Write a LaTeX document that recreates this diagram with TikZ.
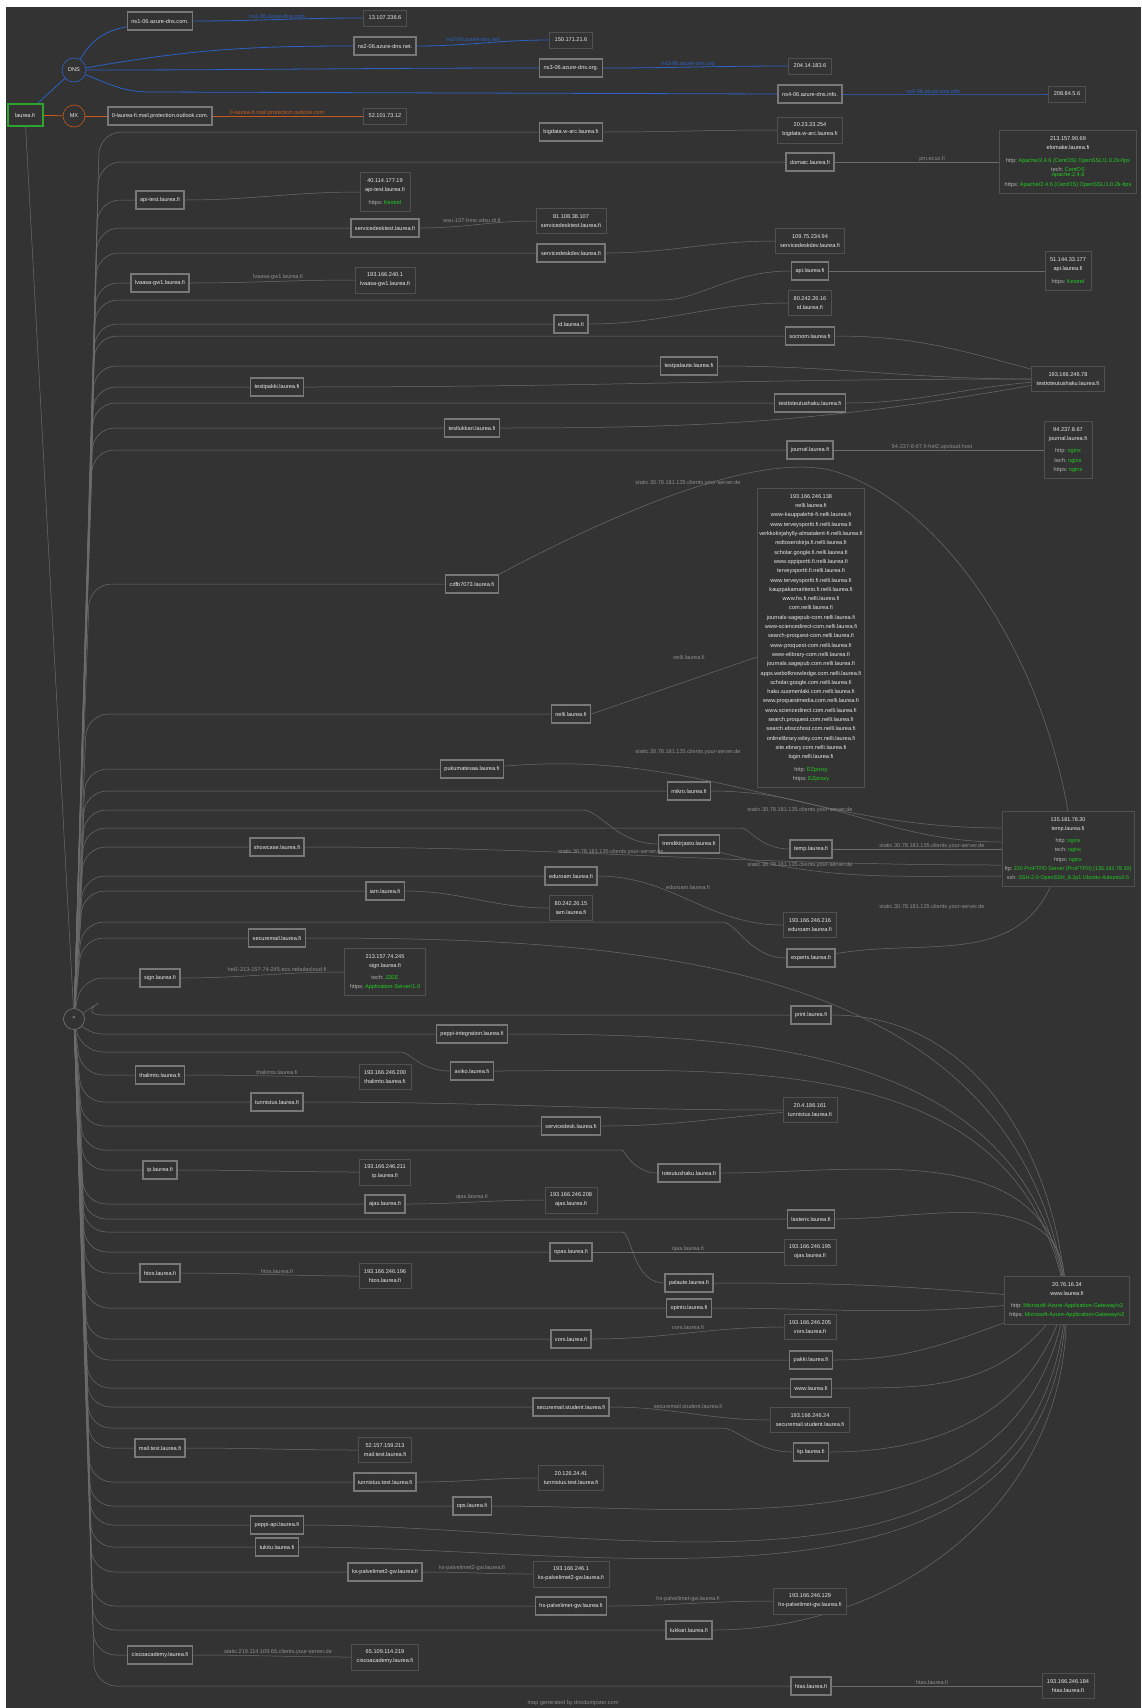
\documentclass[tikz,border=0pt]{standalone}
\usepackage{fontspec}
\setmainfont{Liberation Sans}
\usetikzlibrary{calc}

\definecolor{bg}{HTML}{333333}
\definecolor{boxline}{HTML}{787878}
\definecolor{ipline}{HTML}{505050}
\definecolor{edgegray}{HTML}{6C6C6C}
\definecolor{lbltext}{HTML}{8E8E8E}
\definecolor{nodetext}{HTML}{E8E8E8}
\definecolor{svckey}{HTML}{B4B4B4}
\definecolor{svcgreen}{HTML}{22CC22}
\definecolor{dnsblue}{HTML}{2B62C4}
\definecolor{mxorange}{HTML}{C65A1E}
\definecolor{rootgreen}{HTML}{2EA32E}

\newcommand{\svc}[2]{{\color{svckey}#1:}\ \textcolor{svcgreen}{#2}}

\pgfdeclarelayer{edges}
\pgfsetlayers{edges,main}

\begin{document}
\begin{tikzpicture}[x=1pt, y=-1pt,
    sub/.style={
        rectangle,
        draw=boxline,
        line width=1.5pt,
        fill=bg,
        text=nodetext,
        font=\fontsize{5.6}{7}\selectfont,
        minimum height=18pt,
        inner xsep=4pt
    },
    ipbox/.style={
        rectangle,
        draw=ipline,
        line width=0.7pt,
        fill=bg,
        text=nodetext,
        font=\fontsize{5.6}{9.2}\selectfont,
        align=center,
        inner xsep=5pt,
        inner ysep=6pt
    },
    hub/.style={
        circle,
        draw=boxline,
        line width=0.6pt,
        fill=bg,
        text=nodetext,
        minimum size=21pt,
        inner sep=0pt,
        font=\fontsize{5.6}{7}\selectfont
    },
    lbl/.style={text=lbltext, font=\fontsize{5.6}{7}\selectfont, inner sep=0pt},
    link/.style={draw=edgegray, line width=0.5pt},
    dnslink/.style={draw=dnsblue, line width=0.8pt},
    mxlink/.style={draw=mxorange, line width=0.8pt}
]
\useasboundingbox (0,0) rectangle (1141,1708);

    % root and record hubs
    \node (laurea) [sub, draw=rootgreen, line width=2pt, minimum width=35pt, minimum height=22pt] at (25,115) {laurea.fi};
    \node (dns) [hub, draw=dnsblue, minimum size=24pt] at (74,70) {DNS};
    \node (mx) [hub, draw=mxorange, minimum size=22pt] at (74,116) {MX};
    \node (hat) [hub] at (74,1019) {\textasciicircum};

    % name servers and mail
    \node (ns1) [sub] at (160,21) {ns1-06.azure-dns.com.};
    \node (ns2) [sub] at (385,46) {ns2-06.azure-dns.net.};
    \node (ns3) [sub] at (571,68) {ns3-06.azure-dns.org.};
    \node (ns4) [sub] at (810,94) {ns4-06.azure-dns.info.};
    \node (mxhost) [sub] at (160,116) {0-laurea-fi.mail.protection.outlook.com.};
    \node (i-ns1) [ipbox] at (385,18) {13.107.236.6};
    \node (i-ns2) [ipbox] at (571,40) {150.171.21.6};
    \node (i-ns3) [ipbox] at (810,66) {204.14.183.6};
    \node (i-ns4) [ipbox] at (1067,94) {208.84.5.6};
    \node (i-mx) [ipbox] at (385,116) {52.101.73.12};
    \node (l-ns1) [lbl, text=dnsblue] at (277,16) {ns1-06.azure-dns.com};
    \node (l-ns2) [lbl, text=dnsblue] at (473,39) {ns2-06.azure-dns.net};
    \node (l-ns3) [lbl, text=dnsblue] at (688,64) {ns3-06.azure-dns.org};
    \node (l-ns4) [lbl, text=dnsblue] at (933,91) {ns4-06.azure-dns.info};
    \node (l-mx) [lbl, text=mxorange] at (277,113) {0-laurea-fi.mail.protection.outlook.com};

    % subdomains
    \node (s-bigdata) [sub] at (571,132) {bigdata.w-arc.laurea.fi};
    \node (s-domaic) [sub] at (810,162) {domaic.laurea.fi};
    \node (s-apitest) [sub] at (160,200) {api-test.laurea.fi};
    \node (s-sdtest) [sub] at (385,228) {servicedesktest.laurea.fi};
    \node (s-sddev) [sub] at (571,253) {servicedeskdev.laurea.fi};
    \node (s-lvaasa) [sub] at (160,283) {lvaasa-gw1.laurea.fi};
    \node (s-api) [sub] at (810,271) {api.laurea.fi};
    \node (s-id) [sub] at (571,324) {id.laurea.fi};
    \node (s-socnom) [sub] at (810,336) {socnom.laurea.fi};
    \node (s-testpal) [sub] at (689,366) {testpalaute.laurea.fi};
    \node (s-testpak) [sub] at (277,387) {testipakki.laurea.fi};
    \node (s-testtot) [sub] at (810,403) {testtoteutushaku.laurea.fi};
    \node (s-testluk) [sub] at (472,428) {testlukkari.laurea.fi};
    \node (s-journal) [sub] at (810,450) {journal.laurea.fi};
    \node (s-cdfb) [sub] at (472,584) {cdfb7073.laurea.fi};
    \node (s-nelli) [sub] at (571,714) {nelli.laurea.fi};
    \node (s-puku) [sub] at (472,769) {pukumatesaa.laurea.fi};
    \node (s-mikro) [sub] at (689,791) {mikro.laurea.fi};
    \node (s-showcase) [sub] at (277,847) {showcase.laurea.fi};
    \node (s-trendi) [sub] at (689,844) {trendikirjasto.laurea.fi};
    \node (s-temp) [sub] at (811,849) {temp.laurea.fi};
    \node (s-eduroam) [sub] at (571,876) {eduroam.laurea.fi};
    \node (s-iam) [sub] at (385,891) {iam.laurea.fi};
    \node (s-securemail) [sub] at (277,938) {securemail.laurea.fi};
    \node (s-experts) [sub] at (811,958) {experts.laurea.fi};
    \node (s-sign) [sub] at (160,978) {sign.laurea.fi};
    \node (s-print) [sub] at (811,1015) {print.laurea.fi};
    \node (s-peppiint) [sub] at (472,1034) {peppi-integration.laurea.fi};
    \node (s-aviko) [sub] at (472,1071) {aviko.laurea.fi};
    \node (s-thalimto) [sub] at (160,1075) {thalimto.laurea.fi};
    \node (s-tunnistus) [sub] at (277,1102) {tunnistus.laurea.fi};
    \node (s-servicedesk) [sub] at (571,1126) {servicedesk.laurea.fi};
    \node (s-ip) [sub] at (160,1170) {ip.laurea.fi};
    \node (s-toteutus) [sub] at (689,1173) {toteutushaku.laurea.fi};
    \node (s-ajas) [sub] at (385,1204) {ajas.laurea.fi};
    \node (s-lasterix) [sub] at (811,1219) {lasterix.laurea.fi};
    \node (s-opas) [sub] at (571,1252) {opas.laurea.fi};
    \node (s-htos) [sub] at (160,1273) {htos.laurea.fi};
    \node (s-palaute) [sub] at (689,1283) {palaute.laurea.fi};
    \node (s-opinto) [sub] at (689,1308) {opinto.laurea.fi};
    \node (s-vors) [sub] at (571,1339) {vors.laurea.fi};
    \node (s-pakki) [sub] at (811,1360) {pakki.laurea.fi};
    \node (s-www) [sub] at (811,1388) {www.laurea.fi};
    \node (s-smstudent) [sub] at (571,1407) {securemail.student.laurea.fi};
    \node (s-mailtest) [sub] at (160,1448) {mail.test.laurea.fi};
    \node (s-kp) [sub] at (811,1452) {kp.laurea.fi};
    \node (s-tunntest) [sub] at (385,1482) {tunnistus.test.laurea.fi};
    \node (s-ops) [sub] at (472,1506) {ops.laurea.fi};
    \node (s-peppiapi) [sub] at (277,1525) {peppi-api.laurea.fi};
    \node (s-tukitu) [sub] at (277,1547) {tukitu.laurea.fi};
    \node (s-ksgw) [sub] at (385,1572) {ks-palvelimet2-gw.laurea.fi};
    \node (s-hsgw) [sub] at (571,1606) {hs-palvelimet-gw.laurea.fi};
    \node (s-lukkari) [sub] at (689,1630) {lukkari.laurea.fi};
    \node (s-cisco) [sub] at (160,1655) {ciscoacademy.laurea.fi};
    \node (s-htas) [sub] at (811,1686) {htas.laurea.fi};

    % hosts
    \node (i-bigdata) [ipbox] at (810,130) {20.23.33.254\\bigdata.w-arc.laurea.fi};
    \node (i-domaic) [ipbox] at (1068,162) {213.157.90.69\\elomake.laurea.fi\\[3pt]
        \svc{http}{Apache/2.4.6 (CentOS) OpenSSL/1.0.2k-fips}\\
        \svc{tech}{CentOS}\\[-3.5pt]\textcolor{svcgreen}{Apache:2.4.6}\\
        \svc{https}{Apache/2.4.6 (CentOS) OpenSSL/1.0.2k-fips}};
    \node (i-apitest) [ipbox] at (385,192) {40.114.177.19\\api-test.laurea.fi\\[3pt]\svc{https}{Kestrel}};
    \node (i-sdtest) [ipbox] at (571,221) {81.108.38.107\\servicedesktest.laurea.fi};
    \node (i-sddev) [ipbox] at (810,241) {109.75.234.94\\servicedeskdev.laurea.fi};
    \node (i-lvaasa) [ipbox] at (385,280) {193.166.240.1\\lvaasa-gw1.laurea.fi};
    \node (i-api) [ipbox] at (1068,271) {51.144.33.177\\api.laurea.fi\\[3pt]\svc{https}{Kestrel}};
    \node (i-id) [ipbox] at (810,303) {80.242.26.16\\id.laurea.fi};
    \node (i-testtot) [ipbox] at (1068,379) {193.166.246.78\\testtoteutushaku.laurea.fi};
    \node (i-journal) [ipbox] at (1068,450) {94.237.8.67\\journal.laurea.fi\\[3pt]
        \svc{http}{nginx}\\\svc{tech}{nginx}\\\svc{https}{nginx}};
    \node (i-nelli) [ipbox, font=\fontsize{5.6}{9.3}\selectfont, inner xsep=2pt] at (811,638) {193.166.246.138\\nelli.laurea.fi\\
        www-kauppalehti-fi.nelli.laurea.fi\\www.terveysportti.fi.nelli.laurea.fi\\
        verkkokirjahylly-almatalent-fi.nelli.laurea.fi\\redtoserokirja.fi.nelli.laurea.fi\\
        scholar.google.fi.nelli.laurea.fi\\www.oppiportti.fi.nelli.laurea.fi\\
        terveysportti.fi.nelli.laurea.fi\\www.terveysportti.fi.nelli.laurea.fi\\
        kauppakamaritieto.fi.nelli.laurea.fi\\www.hs.fi.nelli.laurea.fi\\
        com.nelli.laurea.fi\\journals-sagepub-com.nelli.laurea.fi\\
        www-sciencedirect-com.nelli.laurea.fi\\search-proquest-com.nelli.laurea.fi\\
        www-proquest-com.nelli.laurea.fi\\www-elibrary-com.nelli.laurea.fi\\
        journals.sagepub.com.nelli.laurea.fi\\apps.webofknowledge.com.nelli.laurea.fi\\
        scholar.google.com.nelli.laurea.fi\\haku.suomenlaki.com.nelli.laurea.fi\\
        www.proquestmedia.com.nelli.laurea.fi\\www.sciencedirect.com.nelli.laurea.fi\\
        search.proquest.com.nelli.laurea.fi\\search.ebscohost.com.nelli.laurea.fi\\
        onlinelibrary.wiley.com.nelli.laurea.fi\\site.ebrary.com.nelli.laurea.fi\\
        login.nelli.laurea.fi\\[3pt]\svc{http}{EZproxy}\\\svc{https}{EZproxy}};
    \node (i-temp) [ipbox, font=\fontsize{5.4}{9.2}\selectfont, inner xsep=3pt] at (1068,849) {135.181.78.30\\temp.laurea.fi\\[3pt]
        \svc{http}{nginx}\\\svc{tech}{nginx}\\\svc{https}{nginx}\\
        \svc{ftp}{220 ProFTPD Server (ProFTPD) [135.181.78.30]}\\
        \svc{ssh}{SSH-2.0-OpenSSH\_8.2p1 Ubuntu-4ubuntu0.5}};
    \node (i-iam) [ipbox] at (571,908) {80.242.26.15\\iam.laurea.fi};
    \node (i-eduroam) [ipbox] at (810,925) {193.166.246.216\\eduroam.laurea.fi};
    \node (i-sign) [ipbox] at (385,972) {213.157.74.245\\sign.laurea.fi\\[3pt]
        \svc{tech}{J2EE}\\\svc{https}{Application-Server/1.0}};
    \node (i-thalimto) [ipbox] at (385,1077) {193.166.246.200\\thalimto.laurea.fi};
    \node (i-tunnistus) [ipbox] at (810,1110) {20.4.186.161\\tunnistus.laurea.fi};
    \node (i-ip) [ipbox] at (385,1172) {193.166.246.211\\ip.laurea.fi};
    \node (i-ajas) [ipbox] at (571,1200) {193.166.246.208\\ajas.laurea.fi};
    \node (i-opas) [ipbox] at (810,1252) {193.166.246.195\\ojas.laurea.fi};
    \node (i-htos) [ipbox] at (385,1276) {193.166.246.196\\htos.laurea.fi};
    \node (i-www) [ipbox] at (1067,1300) {20.76.16.34\\www.laurea.fi\\[3pt]
        \svc{http}{Microsoft-Azure-Application-Gateway/v2}\\
        \svc{https}{Microsoft-Azure-Application-Gateway/v2}};
    \node (i-vors) [ipbox] at (810,1327) {193.166.246.205\\vors.laurea.fi};
    \node (i-smstudent) [ipbox] at (810,1420) {193.166.246.24\\securemail.student.laurea.fi};
    \node (i-mailtest) [ipbox] at (385,1450) {52.157.159.213\\mail.test.laurea.fi};
    \node (i-tunntest) [ipbox] at (571,1478) {20.126.24.41\\tunnistus.test.laurea.fi};
    \node (i-ksgw) [ipbox] at (571,1574) {193.166.246.1\\ks-palvelimet2-gw.laurea.fi};
    \node (i-hsgw) [ipbox] at (810,1601) {193.166.246.129\\hs-palvelimet-gw.laurea.fi};
    \node (i-cisco) [ipbox] at (385,1657) {65.109.114.219\\ciscoacademy.laurea.fi};
    \node (i-htas) [ipbox] at (1068,1686) {193.166.246.184\\htas.laurea.fi};

    % reverse names on the links
    \node (l-domaic) [lbl] at (932,159) {pm.ecux.fi};
    \node (l-sdtest) [lbl] at (472,220) {wsu-107-hms.vdsu.di.fi};
    \node (l-lvaasa) [lbl] at (278,277) {lvaasa-gw1.laurea.fi};
    \node (l-journal) [lbl] at (932,447) {94-237-8-67.fi-hel2.upcloud.host};
    \node (l-cdfb) [lbl] at (688,483) {static.30.78.181.135.clients.your-server.de};
    \node (l-nelli) [lbl] at (689,657) {nelli.laurea.fi};
    \node (l-puku) [lbl] at (688,752) {static.30.78.181.135.clients.your-server.de};
    \node (l-mikro) [lbl] at (800,810) {static.30.78.181.135.clients.your-server.de};
    \node (l-temp) [lbl] at (932,846) {static.30.78.181.135.clients.your-server.de};
    \node (l-showcase) [lbl] at (611,852) {static.30.78.181.135.clients.your-server.de};
    \node (l-trendi) [lbl] at (800,865) {static.30.78.181.135.clients.your-server.de};
    \node (l-eduroam) [lbl] at (688,887) {eduroam.laurea.fi};
    \node (l-experts) [lbl] at (932,907) {static.30.78.181.135.clients.your-server.de};
    \node (l-sign) [lbl] at (277,969) {hel1-213-157-74-245.ecs.nebulacloud.fi};
    \node (l-thalimto) [lbl] at (277,1072) {thalimto.laurea.fi};
    \node (l-ajas) [lbl] at (472,1197) {ajas.laurea.fi};
    \node (l-opas) [lbl] at (688,1249) {ojas.laurea.fi};
    \node (l-htos) [lbl] at (277,1271) {htos.laurea.fi};
    \node (l-vors) [lbl] at (688,1327) {vors.laurea.fi};
    \node (l-smstudent) [lbl] at (688,1406) {securemail.student.laurea.fi};
    \node (l-ksgw) [lbl] at (472,1568) {ks-palvelimet2-gw.laurea.fi};
    \node (l-hsgw) [lbl] at (688,1599) {hs-palvelimet-gw.laurea.fi};
    \node (l-cisco) [lbl] at (278,1652) {static.219.114.109.65.clients.your-server.de};
    \node (l-htas) [lbl] at (932,1682) {htas.laurea.fi};
    \node (credit) [lbl] at (573,1703) {map generated by dnsdumpster.com};

    % entry points on the shared temp host
    \coordinate (t-puku) at ($(i-temp.west)+(0,-21)$);
    \coordinate (t-mikro) at ($(i-temp.west)+(0,-7)$);
    \coordinate (t-showcase) at ($(i-temp.west)+(0,16)$);
    \coordinate (t-trendi) at ($(i-temp.west)+(0,27)$);

\begin{pgfonlayer}{edges}
    \fill[white] (0,0) rectangle (1141,1708);
    \fill[bg] (6,7) rectangle (1141,1708);

    % dns and mx records
    \draw [dnslink] (laurea) -- (dns);
    \draw [dnslink] (dns) to[out=60,in=190] (ns1);
    \draw [dnslink] (dns) to[out=10,in=180] (ns2);
    \draw [dnslink] (dns) to[out=0,in=180] (ns3);
    \draw [dnslink] (dns) to[out=-22,in=180] (150,92) -- (ns4.west);
    \draw [dnslink] (ns1) to[out=0,in=180] (i-ns1);
    \draw [dnslink] (ns2) to[out=0,in=180] (i-ns2);
    \draw [dnslink] (ns3) to[out=0,in=180] (i-ns3);
    \draw [dnslink] (ns4) to[out=0,in=180] (i-ns4);
    \draw [mxlink] (laurea) -- (mx);
    \draw [mxlink] (mx) -- (mxhost);
    \draw [mxlink] (mxhost) -- (i-mx);

    % host records fan out from the hub
    \draw [link] (laurea) -- (hat);
    \foreach \h in {bigdata, domaic, apitest, sdtest, sddev, lvaasa, id, socnom, testpal,
        testpak, testtot, testluk, journal, cdfb, nelli, puku, mikro, showcase, eduroam,
        iam, securemail, sign, print, peppiint, thalimto, tunnistus, servicedesk, ip,
        ajas, lasterix, opas, htos, opinto, vors, pakki, www, smstudent, mailtest,
        tunntest, ops, peppiapi, tukitu, ksgw, hsgw, lukkari, cisco, htas}
        \draw [link, rounded corners=22pt] let \p1=(s-\h.west) in
            (hat) -- ({80+0.022*abs(\y1/1pt+1019)}, \y1) -- (s-\h.west);
    \foreach \h/\vx/\vy in {api/640/300, trendi/560/810, temp/720/828, experts/700/922,
        aviko/380/1052, toteutus/600/1150, palaute/600/1232, kp/700/1428}
        \draw [link, rounded corners=22pt] (hat) -- ({80+0.022*abs(\vy-1019)}, \vy)
            -- (\vx,\vy) to[out=0,in=180] (s-\h.west);

    % hosts to addresses
    \draw [link] (s-bigdata) to[out=0,in=180] (i-bigdata);
    \draw [link] (s-domaic) -- (i-domaic);
    \draw [link] (s-apitest) to[out=0,in=180] (i-apitest);
    \draw [link] (s-sdtest) to[out=0,in=180] (i-sdtest);
    \draw [link] (s-sddev) to[out=0,in=180] (i-sddev);
    \draw [link] (s-lvaasa) to[out=0,in=180] (i-lvaasa);
    \draw [link] (s-api) -- (i-api);
    \draw [link] (s-id) to[out=0,in=180] (i-id);
    \draw [link] (s-socnom) to[out=0,in=165] (i-testtot);
    \draw [link] (s-testpal) to[out=0,in=180] (i-testtot);
    \draw [link] (s-testpak) to[out=0,in=180] (i-testtot);
    \draw [link] (s-testtot) to[out=0,in=185] (i-testtot);
    \draw [link] (s-testluk) to[out=0,in=190] (i-testtot);
    \draw [link] (s-journal) -- (i-journal);
    \draw [link] (s-cdfb.north east) .. controls (640,500) and (760,455) .. (830,470)
        .. controls (940,500) and (1040,650) .. (i-temp.north);
    \draw [link] (s-nelli.east) -- ($(i-nelli.west)+(0,19)$);
    \draw [link] (s-puku) to[out=5,in=180] (t-puku);
    \draw [link] (s-mikro) to[out=0,in=180] (t-mikro);
    \draw [link] (s-showcase) to[out=0,in=180] (t-showcase);
    \draw [link] (s-trendi) to[out=-15,in=180] (t-trendi);
    \draw [link] (s-temp) -- (i-temp);
    \draw [link] (s-experts) to[out=10,in=-115] (i-temp);
    \draw [link] (s-eduroam) to[out=0,in=180] (i-eduroam);
    \draw [link] (s-iam) to[out=0,in=180] (i-iam);
    \draw [link] (s-sign) to[out=0,in=180] (i-sign);
    \draw [link] (s-thalimto) to[out=0,in=180] (i-thalimto);
    \draw [link] (s-tunnistus) to[out=0,in=180] (i-tunnistus);
    \draw [link] (s-servicedesk) to[out=0,in=185] (i-tunnistus);
    \draw [link] (s-ip) to[out=0,in=180] (i-ip);
    \draw [link] (s-ajas) to[out=0,in=180] (i-ajas);
    \draw [link] (s-opas) to[out=0,in=180] (i-opas);
    \draw [link] (s-htos) to[out=0,in=180] (i-htos);
    \draw [link] (s-vors) to[out=0,in=180] (i-vors);
    \draw [link] (s-smstudent) to[out=0,in=180] (i-smstudent);
    \draw [link] (s-mailtest) to[out=0,in=180] (i-mailtest);
    \draw [link] (s-tunntest) to[out=0,in=180] (i-tunntest);
    \draw [link] (s-ksgw) to[out=0,in=180] (i-ksgw);
    \draw [link] (s-hsgw) to[out=0,in=180] (i-hsgw);
    \draw [link] (s-cisco) to[out=0,in=180] (i-cisco);
    \draw [link] (s-htas) -- (i-htas);

    % the shared azure gateway
    \foreach \h/\a in {securemail/100, print/97, peppiint/102, aviko/104, toteutus/99, lasterix/96}
        \draw [link] (s-\h) to[out=0,in=\a] (i-www);
    \foreach \h/\a in {palaute/175, opinto/185}
        \draw [link] (s-\h) to[out=0,in=\a] (i-www);
    \foreach \h/\a in {pakki/-160, www/-130, kp/-112, ops/-104, peppiapi/-98, tukitu/-95, lukkari/-92}
        \draw [link] (s-\h) to[out=0,in=\a] (i-www);
\end{pgfonlayer}

\end{tikzpicture}
\end{document}
